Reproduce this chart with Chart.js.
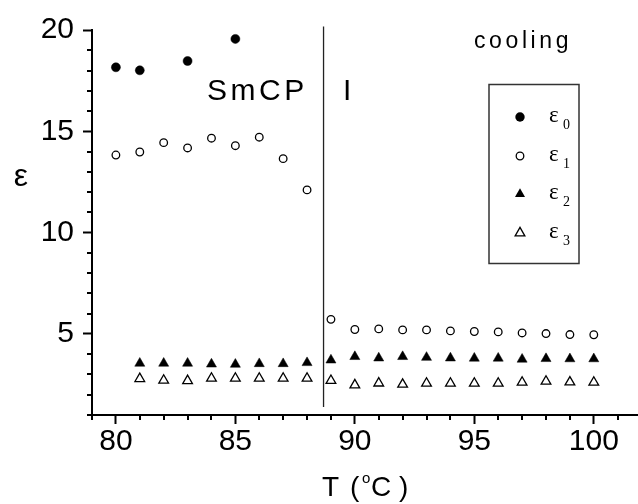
<!DOCTYPE html>
<html>
<head>
<meta charset="utf-8">
<script src="https://cdn.jsdelivr.net/npm/chart.js@4/dist/chart.umd.min.js"></script>
<style>
html, body { margin: 0; padding: 0; background: #fff; }
canvas { display: block; }
</style>
</head>
<body>
<canvas id="epsChart" width="638" height="504"></canvas>
<script>
// temperatures (deg C) and permittivity values
const temps0 = [80, 81, 83, 85];
const eps0 = [18.16, 18.01, 18.47, 19.56];

const temps1 = [80, 81, 82, 83, 84, 85, 86, 87, 88, 89, 90, 91, 92, 93, 94, 95, 96, 97, 98, 99, 100];
const eps1 = [13.83, 13.98, 14.44, 14.18, 14.66, 14.29, 14.71, 13.65, 12.11,
              5.72, 5.22, 5.25, 5.2, 5.2, 5.15, 5.12, 5.1, 5.05, 5.02, 4.97, 4.96];

const temps23 = [81, 82, 83, 84, 85, 86, 87, 88, 89, 90, 91, 92, 93, 94, 95, 96, 97, 98, 99, 100];
const eps2 = [3.55, 3.55, 3.55, 3.51, 3.5, 3.53, 3.53, 3.58,
              3.71, 3.88, 3.81, 3.88, 3.84, 3.81, 3.8, 3.8, 3.75, 3.78, 3.77, 3.77];
const eps3 = [2.79, 2.71, 2.69, 2.81, 2.81, 2.81, 2.81, 2.81,
              2.7, 2.48, 2.57, 2.51, 2.56, 2.56, 2.56, 2.56, 2.61, 2.66, 2.62, 2.61];

// SmCP -> I transition marker
const transitionT = 88.69;
const transitionEps = [1.39, 20.17];

const xRange = [79, 101.85];
const yRange = [1, 20];
const majorStep = 5;

const legendLabels = ['0', '1', '2', '3'];

function pts(xs, ys) {
    return xs.map((x, i) => ({ x: x, y: ys[i] }));
}

const SANS = '"Liberation Sans", Arial, sans-serif';
const SERIF = '"Liberation Serif", "Times New Roman", serif';

function spacedText(ctx, txt, x, y, spacing) {
    // manual letter spacing so it works everywhere
    let cx = x;
    for (const ch of txt) {
        ctx.fillText(ch, cx, y);
        cx += ctx.measureText(ch).width + spacing;
    }
}

function symbol(ctx, style, x, y) {
    ctx.save();
    ctx.strokeStyle = '#000';
    ctx.lineWidth = 1.3;
    ctx.beginPath();
    if (style === 'dot' || style === 'ring') {
        ctx.arc(x, y, style === 'dot' ? 4.7 : 3.8, 0, Math.PI * 2);
    } else {
        const r = style === 'tri' ? 5.8 : 5.6;
        for (let k = 0; k < 3; k++) {
            const a = k * 2 * Math.PI / 3;
            const px = x + Math.sin(a) * r, py = y - Math.cos(a) * r;
            if (k === 0) ctx.moveTo(px, py); else ctx.lineTo(px, py);
        }
        ctx.closePath();
    }
    if (style === 'dot' || style === 'tri') {
        ctx.fillStyle = '#000';
        ctx.fill();
    } else {
        ctx.fillStyle = '#fff';
        ctx.fill();
        ctx.stroke();
    }
    ctx.restore();
}

const extras = {
    id: 'extras',
    afterDraw(chart) {
        const ctx = chart.ctx;
        const xs = chart.scales.x, ys = chart.scales.y;
        const area = chart.chartArea;
        ctx.save();

        // minor ticks every 1 unit
        ctx.strokeStyle = '#000';
        ctx.lineWidth = 2;
        ctx.beginPath();
        for (let t = Math.ceil(xRange[0]); t <= xRange[1]; t++) {
            if (t % majorStep === 0) continue;
            const px = Math.round(xs.getPixelForValue(t));
            ctx.moveTo(px, area.bottom);
            ctx.lineTo(px, area.bottom + 5);
        }
        for (let v = yRange[0]; v <= yRange[1]; v++) {
            if (v % majorStep === 0) continue;
            const py = Math.round(ys.getPixelForValue(v));
            ctx.moveTo(area.left, py);
            ctx.lineTo(area.left - 5, py);
        }
        ctx.stroke();

        ctx.fillStyle = '#000';
        ctx.textBaseline = 'alphabetic';

        // axis titles
        ctx.textAlign = 'center';
        ctx.font = '32px ' + SANS;
        ctx.fillText('ε', 21, 186);

        ctx.textAlign = 'left';
        ctx.font = '28px ' + SANS;
        ctx.fillText('T', 322, 496);
        ctx.fillText('(', 350, 496);
        ctx.fillText('C', 371, 496);
        ctx.fillText(')', 399, 496);
        ctx.font = '15px ' + SANS;
        ctx.fillText('o', 362, 483);

        // phase labels
        ctx.font = '30px ' + SANS;
        spacedText(ctx, 'SmCP', 207, 100, 3.5);
        ctx.fillText('I', 343, 100);

        ctx.font = '23px ' + SANS;
        spacedText(ctx, 'cooling', 474, 48, 3.6);

        // legend box
        ctx.strokeStyle = '#333';
        ctx.lineWidth = 1.5;
        ctx.strokeRect(489, 84.5, 90, 179);
        const styles = ['dot', 'ring', 'tri', 'otri'];
        const rows = [117, 156, 194, 233];
        styles.forEach((s, i) => {
            symbol(ctx, s, 520, rows[i]);
            ctx.fillStyle = '#000';
            ctx.font = '23px ' + SERIF;
            ctx.fillText('ε', 549, rows[i] + 5);
            ctx.font = '14px ' + SERIF;
            ctx.fillText(legendLabels[i], 563, rows[i] + 12);
        });

        ctx.restore();
    }
};

const ctx = document.getElementById('epsChart').getContext('2d');
const chart = new Chart(ctx, {
    type: 'scatter',
    data: {
        datasets: [
            {
                label: 'eps0',
                data: pts(temps0, eps0),
                pointStyle: 'circle',
                pointRadius: 4.5,
                pointBackgroundColor: '#000',
                pointBorderColor: '#000',
                pointBorderWidth: 0.5
            },
            {
                label: 'eps1',
                data: pts(temps1, eps1),
                pointStyle: 'circle',
                pointRadius: 3.8,
                pointBackgroundColor: '#fff',
                pointBorderColor: '#000',
                pointBorderWidth: 1.3
            },
            {
                label: 'eps2',
                data: pts(temps23, eps2),
                pointStyle: 'triangle',
                pointRadius: 5.8,
                pointBackgroundColor: '#000',
                pointBorderColor: '#000',
                pointBorderWidth: 0.5
            },
            {
                label: 'eps3',
                data: pts(temps23, eps3),
                pointStyle: 'triangle',
                pointRadius: 5.6,
                pointBackgroundColor: '#fff',
                pointBorderColor: '#000',
                pointBorderWidth: 1.3
            },
            {
                label: 'transition',
                type: 'line',
                data: transitionEps.map(v => ({ x: transitionT, y: v })),
                showLine: true,
                borderColor: '#222',
                borderWidth: 1.3,
                pointRadius: 0,
                clip: false
            }
        ]
    },
    options: {
        responsive: false,
        animation: false,
        events: [],
        layout: { autoPadding: false, padding: { top: 30, left: 0, right: 0, bottom: 0 } },
        plugins: {
            legend: { display: false },
            tooltip: { enabled: false }
        },
        scales: {
            x: {
                type: 'linear',
                min: xRange[0],
                max: xRange[1],
                afterFit(scale) {
                    scale.height = 89;
                    scale.paddingLeft = 0;
                    scale.paddingRight = 0;
                },
                border: { display: true, color: '#000', width: 2 },
                grid: { display: true, drawOnChartArea: false, drawTicks: true, tickLength: 9, tickWidth: 2, tickColor: '#000' },
                ticks: {
                    stepSize: majorStep,
                    includeBounds: false,
                    maxRotation: 0,
                    autoSkip: false,
                    padding: 0,
                    color: '#000',
                    font: { family: SANS, size: 30 }
                }
            },
            y: {
                type: 'linear',
                min: yRange[0],
                max: yRange[1],
                afterFit(scale) {
                    scale.width = 92;
                    scale.paddingTop = 0;
                    scale.paddingBottom = 0;
                },
                border: { display: true, color: '#000', width: 2 },
                grid: { display: true, drawOnChartArea: false, drawTicks: true, tickLength: 9, tickWidth: 2, tickColor: '#000' },
                ticks: {
                    stepSize: majorStep,
                    includeBounds: false,
                    autoSkip: false,
                    padding: 9,
                    color: '#000',
                    font: { family: SANS, size: 30 }
                }
            }
        }
    },
    plugins: [extras]
});
</script>
</body>
</html>
